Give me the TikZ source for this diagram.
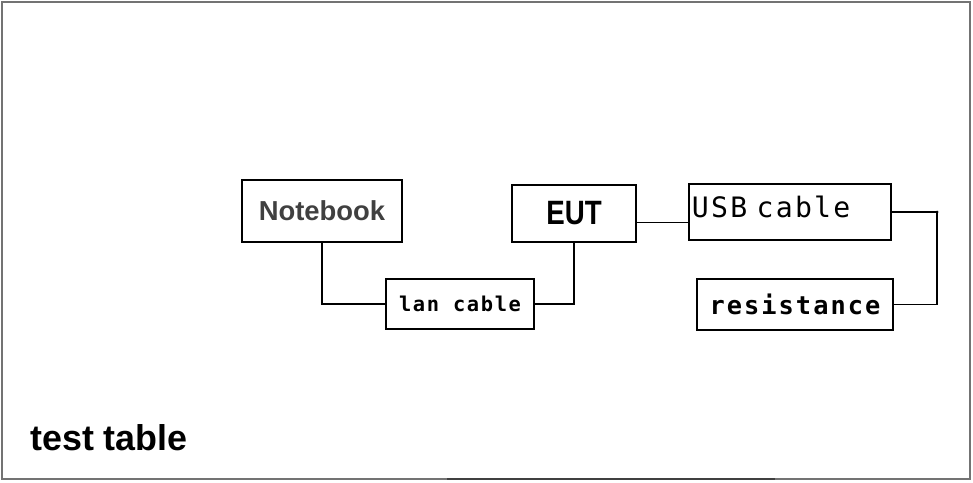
\documentclass[tikz,border=0pt]{standalone}
\usepackage{fontspec}
\setmainfont{Liberation Sans}
\newfontfamily\cablefont[LetterSpace=8]{DejaVu Sans Mono}

\tikzset{
  unitbox/.style={draw, line width=1.4pt, inner sep=0pt},
  wire/.style={line width=1.1pt}
}

\begin{document}
\begin{tikzpicture}[x=0.025cm, y=-0.025cm]

\useasboundingbox (0,0) rectangle (973,482);

%--- Frame of the test table ---
\draw[black!55, line width=1.8pt] (2,2) rectangle (970,479);
\draw[black!75, line width=1.8pt] (447,479) -- (775,479); % darker strip at the bottom

%--- Units ---
\node[unitbox, minimum width=4cm, minimum height=1.55cm, text=black!75,
      font=\bfseries\fontsize{19.5}{19.5}\selectfont] (nb) at (322,211) {Notebook};
\node[unitbox, minimum width=3.1cm, minimum height=1.425cm,
      font=\bfseries\fontsize{24}{24}\selectfont] (eut) at (574,213.5) {\scalebox{0.82}[1]{EUT}};
\node[unitbox, minimum width=3.7cm, minimum height=1.25cm,
      font=\cablefont\bfseries\fontsize{14.5}{14.5}\selectfont] (lan) at (460,304) {lan cable};
\node[unitbox, minimum width=5.05cm, minimum height=1.4cm, inner xsep=0.075cm,
      text width=4.9cm, align=left, text depth=0.25cm,
      font=\cablefont\fontsize{20}{20}\selectfont] (usb) at (790,212) {USB cable};
\node[unitbox, minimum width=4.9cm, minimum height=1.275cm,
      font=\cablefont\bfseries\fontsize{18}{18}\selectfont] (res) at (795,304.5) {resistance};

%--- Wiring ---
\draw[wire] (nb.south) |- (lan.west);
\draw[wire] (lan.east) -| (eut.south);

\coordinate (link) at ([yshift=-0.22cm]eut.east);
\draw[wire] (link) -- (link -| usb.west);

\draw[wire] (usb.east) -- ++(45,0) coordinate (tap) |- (res.east);
\fill (tap) circle (1.5);

%--- Label ---
\node[anchor=base west, inner sep=0pt, font=\bfseries\fontsize{25.5}{25.5}\selectfont] (lbl) at (30,450) {test table};

\end{tikzpicture}
\end{document}
